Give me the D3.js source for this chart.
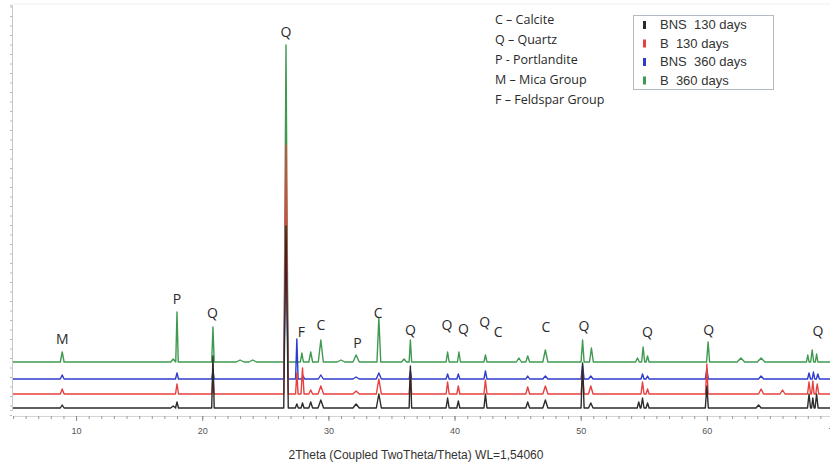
<!DOCTYPE html>
<html>
<head>
<meta charset="utf-8">
<script src="https://cdn.jsdelivr.net/npm/d3@7"></script>
<style>
  body { margin: 0; background: #fff; }
  svg { display: block; }
</style>
</head>
<body>
<svg id="xrd" width="830" height="467"></svg>
<script>
// series, bottom to top in the stack
const seriesNames = ["BNS  130 days", "B  130 days", "BNS  360 days", "B  360 days"];
const seriesColors = ["#2b2b2b", "#e6403f", "#2e3ccc", "#3f9a50"];
const seriesOffsets = [2, 16, 31, 48];

// peaks: [2theta, height, half width]
const peaksBNS130 = [
  [8.9, 3, 0.15], [17.7, 2, 0.2], [18.0, 6, 0.12], [20.85, 52, 0.1], [26.64, 182, 0.18],
  [27.5, 4, 0.12], [27.95, 5, 0.12], [28.6, 6, 0.15], [29.4, 8, 0.22], [32.2, 4, 0.25],
  [34.0, 14, 0.2], [36.5, 42, 0.1], [39.45, 10, 0.12], [40.3, 7, 0.12], [42.45, 14, 0.12],
  [45.8, 6, 0.15], [47.2, 8, 0.2], [50.15, 45, 0.12], [50.8, 5, 0.18], [54.6, 6, 0.12],
  [54.9, 10, 0.12], [55.3, 5, 0.12], [60.0, 22, 0.12], [64.1, 3, 0.2],
  [68.1, 14, 0.12], [68.4, 10, 0.1], [68.7, 14, 0.12]
];
const peaksB130 = [
  [8.9, 5, 0.15], [18.0, 10, 0.12], [20.85, 15, 0.1], [26.64, 249, 0.18],
  [27.5, 21, 0.1], [27.95, 26, 0.12], [28.6, 4, 0.15], [29.4, 8, 0.22], [32.2, 3, 0.25],
  [34.0, 15, 0.2], [36.5, 20, 0.1], [39.45, 12, 0.12], [40.3, 8, 0.12], [42.45, 14, 0.12],
  [45.8, 7, 0.15], [47.2, 8, 0.2], [50.15, 22, 0.12], [50.8, 8, 0.18], [54.9, 12, 0.12],
  [55.3, 5, 0.12], [60.0, 30, 0.1], [64.3, 5, 0.2], [66.0, 4, 0.2],
  [68.1, 12, 0.12], [68.4, 13, 0.1], [68.75, 10, 0.12]
];
const peaksBNS360 = [
  [8.9, 4, 0.15], [18.0, 6, 0.12], [20.85, 8, 0.1], [26.64, 150, 0.18],
  [27.5, 40, 0.1], [28.0, 3, 0.12], [29.4, 4, 0.2], [32.2, 2, 0.25], [34.0, 6, 0.2],
  [36.5, 8, 0.1], [39.45, 5, 0.12], [40.3, 5, 0.12], [42.45, 8, 0.12], [45.8, 3, 0.15],
  [47.2, 3, 0.2], [50.15, 14, 0.12], [50.8, 3, 0.18], [54.9, 5, 0.12], [55.3, 3, 0.12],
  [60.0, 10, 0.12], [64.3, 3, 0.2], [68.1, 6, 0.12], [68.45, 7, 0.1], [68.8, 5, 0.12]
];
const peaksB360 = [
  [8.9, 10, 0.15], [17.7, 3, 0.2], [18.0, 50, 0.1], [20.85, 35, 0.1], [23.0, 2, 0.3],
  [24.0, 2, 0.3], [26.64, 317, 0.16], [27.9, 9, 0.12], [28.6, 10, 0.15], [29.4, 22, 0.2],
  [31.0, 2, 0.3], [32.2, 7, 0.25], [34.0, 44, 0.15], [36.0, 3, 0.2], [36.5, 22, 0.1],
  [39.45, 10, 0.12], [40.35, 10, 0.12], [42.45, 7, 0.12], [45.1, 4, 0.2], [45.8, 6, 0.15],
  [47.2, 12, 0.2], [50.15, 22, 0.12], [50.85, 14, 0.15], [54.5, 4, 0.15], [54.95, 15, 0.12],
  [55.3, 6, 0.12], [60.1, 20, 0.12], [62.7, 4, 0.3], [64.3, 4, 0.3],
  [68.0, 7, 0.1], [68.35, 12, 0.12], [68.7, 8, 0.1]
];
const seriesPeaks = [peaksBNS130, peaksB130, peaksBNS360, peaksB360];

// phase letters over the peaks: [2theta, letter, level]
const phaseLabels = [
  [8.9, "M", 66], [18.0, "P", 106], [20.8, "Q", 92], [26.64, "Q", 373], [27.85, "F", 73],
  [29.4, "C", 80], [32.3, "P", 62], [33.95, "C", 92], [36.5, "Q", 75], [39.4, "Q", 80],
  [40.7, "Q", 76], [42.4, "Q", 83], [43.45, "C", 73], [47.25, "C", 78], [50.25, "Q", 79],
  [55.3, "Q", 73], [60.15, "Q", 75], [68.8, "Q", 74]
];
const phaseKey = ["C \u2013 Calcite", "Q \u2013 Quartz", "P - Portlandite", "M \u2013 Mica Group", "F \u2013 Feldspar Group"];
const xTickLabels = [10, 20, 30, 40, 50, 60, 70];
const xTitle = "2Theta (Coupled TwoTheta/Theta) WL=1,54060";

const svg = d3.select("#xrd");
const x = d3.scaleLinear().domain([5, 70]).range([13, 833]);
const y = d3.scaleLinear().domain([0, 405]).range([410, 5]);

// top frame line
svg.append("line")
  .attr("x1", 12).attr("x2", 830).attr("y1", 4).attr("y2", 4)
  .attr("stroke", "#eeeeee");

// y axis: ticks only, no labels
const yAxis = svg.append("g")
  .attr("transform", "translate(12,0)")
  .call(d3.axisLeft(y).tickValues(d3.range(-5, 405, 9.5)).tickSize(2).tickFormat(""));
yAxis.select(".domain").attr("stroke", "#c8c8c8");
yAxis.selectAll(".tick line").attr("stroke", "#b8b8b8");

// x axis: minor ticks every degree, labelled every ten
const xMinor = svg.append("g")
  .attr("transform", "translate(0,416)")
  .call(d3.axisBottom(x).tickValues(d3.range(5, 71, 1)).tickSize(3).tickFormat(""));
xMinor.select(".domain").attr("stroke", "#d4d4d4");
xMinor.selectAll(".tick line").attr("stroke", "#9a9a9a");

const xMajor = svg.append("g")
  .attr("transform", "translate(0,416)")
  .call(d3.axisBottom(x).tickValues(xTickLabels).tickSize(5).tickPadding(7));
xMajor.select(".domain").remove();
xMajor.selectAll(".tick line").attr("stroke", "#8a8a8a");
xMajor.selectAll(".tick text")
  .attr("font-family", "Liberation Sans, Arial, sans-serif")
  .attr("font-size", 9)
  .attr("fill", "#555");

svg.append("text")
  .attr("x", 416).attr("y", 459)
  .attr("text-anchor", "middle")
  .attr("font-family", "Liberation Sans Narrow, Liberation Sans, Arial, sans-serif")
  .attr("font-size", 12)
  .attr("fill", "#333")
  .text(xTitle);

// build each pattern as baseline + spikes
function patternPoints(peaks) {
  const pts = [[5, 0]];
  peaks.slice().sort((a, b) => a[0] - b[0]).forEach(([c, h, w]) => {
    pts.push([c - w, 0], [c, h], [c + w, 0]);
  });
  pts.push([70, 0]);
  return pts;
}

const line = d3.line()
  .x(d => x(d[0]))
  .y(d => y(d[1]));

// green drawn first, black last (black sits on top)
const order = [3, 2, 1, 0];
svg.append("g")
  .selectAll("path")
  .data(order)
  .join("path")
  .attr("fill", "none")
  .attr("stroke", i => seriesColors[i])
  .attr("stroke-width", 1.4)
  .attr("stroke-linejoin", "round")
  .attr("d", i => line(patternPoints(seriesPeaks[i]).map(p => [p[0], p[1] + seriesOffsets[i]])));

// phase letters
svg.append("g")
  .selectAll("text")
  .data(phaseLabels)
  .join("text")
  .attr("x", d => x(d[0]))
  .attr("y", d => y(d[2]))
  .attr("text-anchor", "middle")
  .attr("font-family", "Open Sans, sans-serif")
  .attr("font-size", 14)
  .attr("fill", "#2a2a2a")
  .text(d => d[1]);

// phase key
svg.append("g")
  .selectAll("text")
  .data(phaseKey)
  .join("text")
  .attr("x", 495)
  .attr("y", (d, i) => 24 + i * 20)
  .attr("font-family", "Open Sans, sans-serif")
  .attr("font-size", 12.5)
  .attr("fill", "#2a2a2a")
  .text(d => d);

// series legend
const legend = svg.append("g");
legend.append("rect")
  .attr("x", 633.5).attr("y", 15.5).attr("width", 140).attr("height", 74)
  .attr("fill", "#fff").attr("stroke", "#b4bac6");
const rows = legend.selectAll("g.row")
  .data(seriesNames)
  .join("g")
  .attr("class", "row")
  .attr("transform", (d, i) => `translate(0,${24 + i * 18.5})`);
rows.append("rect")
  .attr("x", 643).attr("y", -3).attr("width", 3).attr("height", 8)
  .attr("fill", (d, i) => seriesColors[i]);
rows.append("text")
  .attr("x", 660).attr("y", 5)
  .attr("font-family", "Liberation Sans, Arial, sans-serif")
  .attr("font-size", 13)
  .attr("fill", "#333")
  .style("white-space", "pre")
  .text(d => d);
</script>
</body>
</html>
